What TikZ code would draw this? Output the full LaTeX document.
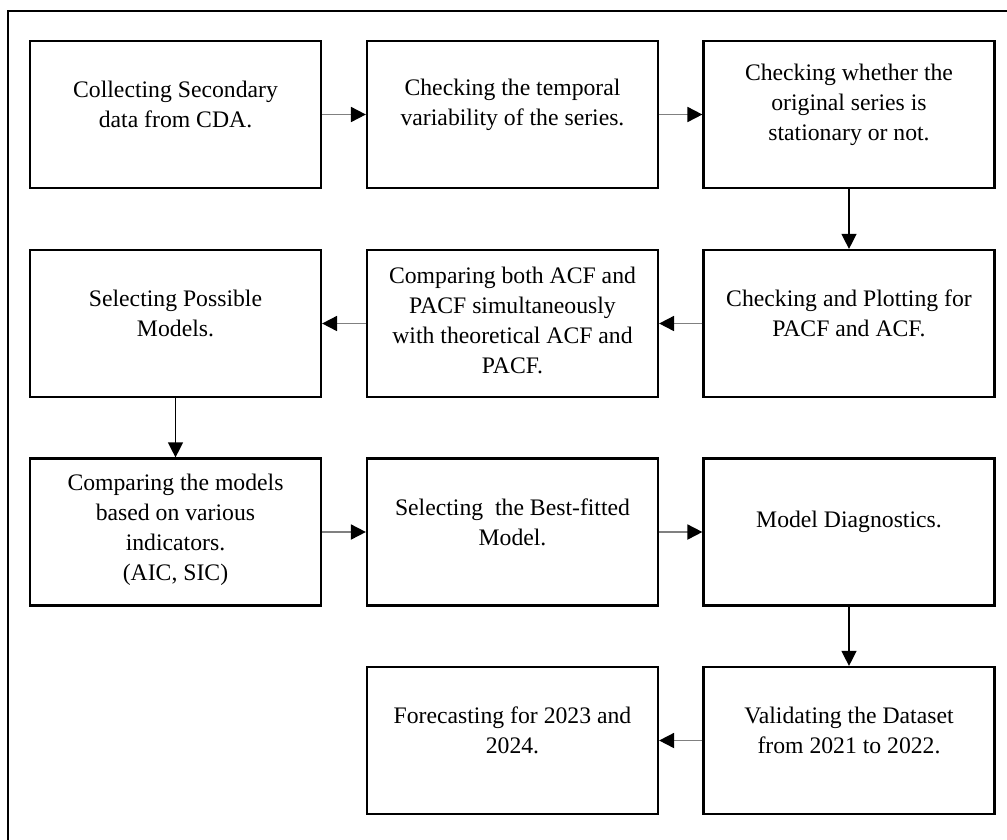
\documentclass[tikz,border=0pt]{standalone}
\usepackage{fontspec}
\setmainfont{Liberation Serif}
\usetikzlibrary{arrows.meta}

\tikzset{
  stepbox/.style = {draw, line width=2.2pt, minimum width=291pt, minimum height=147pt, inner sep=0pt},
  steptext/.style = {align=center, inner sep=0pt, font=\fontsize{23.7}{30}\selectfont, yshift=10pt},
  sidearrow/.style = {draw=gray, line width=1.8pt, -{Triangle[length=15pt,width=15pt,black]}},
  downarrow/.style = {draw=black, line width=1.3pt, -{Triangle[length=15pt,width=15pt]}}
}

\begin{document}
\begin{tikzpicture}[x=1pt,y=-1pt]
\useasboundingbox (0,0) rectangle (1007,839);

% the frame round it
\draw[line width=2pt] (8,845) -- (8,11) -- (1012,11);

% first row
\node[stepbox, label={[steptext]center:{Collecting Secondary\\data from CDA.}}] (collect) at (175.5,114.5) {};
\node[stepbox, label={[steptext]center:{Checking the temporal\\variability of the series.}}] (temporal) at (512.5,114.5) {};
\node[stepbox, label={[steptext]center:{Checking whether the\\original series is\\stationary or not.}}] (station) at (849,114.5) {};

% second row
\node[stepbox, label={[steptext]center:{Checking and Plotting for\\PACF and ACF.}}] (plotting) at (849,323.5) {};
\node[stepbox, label={[steptext,yshift=-7pt]center:{Comparing both ACF and\\PACF simultaneously\\with theoretical ACF and\\PACF.}}] (compare) at (512.5,323.5) {};
\node[stepbox, label={[steptext]center:{Selecting Possible\\Models.}}] (possible) at (175.5,323.5) {};

% third row
\node[stepbox, label={[steptext,yshift=-8pt]center:{Comparing the models\\based on various\\indicators.\\(AIC, SIC)}}] (indicator) at (175.5,532) {};
\node[stepbox, label={[steptext]center:{Selecting\ \ the Best-fitted\\Model.}}] (bestfit) at (512.5,532) {};
\node[stepbox, label={[steptext]center:{Model Diagnostics.}}] (diagnose) at (849,532) {};

% fourth row
\node[stepbox, label={[steptext]center:{Validating the Dataset\\from 2021 to 2022.}}] (validate) at (849,740.5) {};
\node[stepbox, label={[steptext]center:{Forecasting for 2023 and\\2024.}}] (forecast) at (512.5,740.5) {};

% arrows
\draw[sidearrow] (collect) -- (temporal);
\draw[sidearrow] (temporal) -- (station);
\draw[downarrow] (station) -- (plotting);
\draw[sidearrow] (plotting) -- (compare);
\draw[sidearrow] (compare) -- (possible);
\draw[downarrow] (possible) -- (indicator);
\draw[sidearrow] (indicator) -- (bestfit);
\draw[sidearrow] (bestfit) -- (diagnose);
\draw[downarrow] (diagnose) -- (validate);
\draw[sidearrow] (validate) -- (forecast);
\end{tikzpicture}
\end{document}
